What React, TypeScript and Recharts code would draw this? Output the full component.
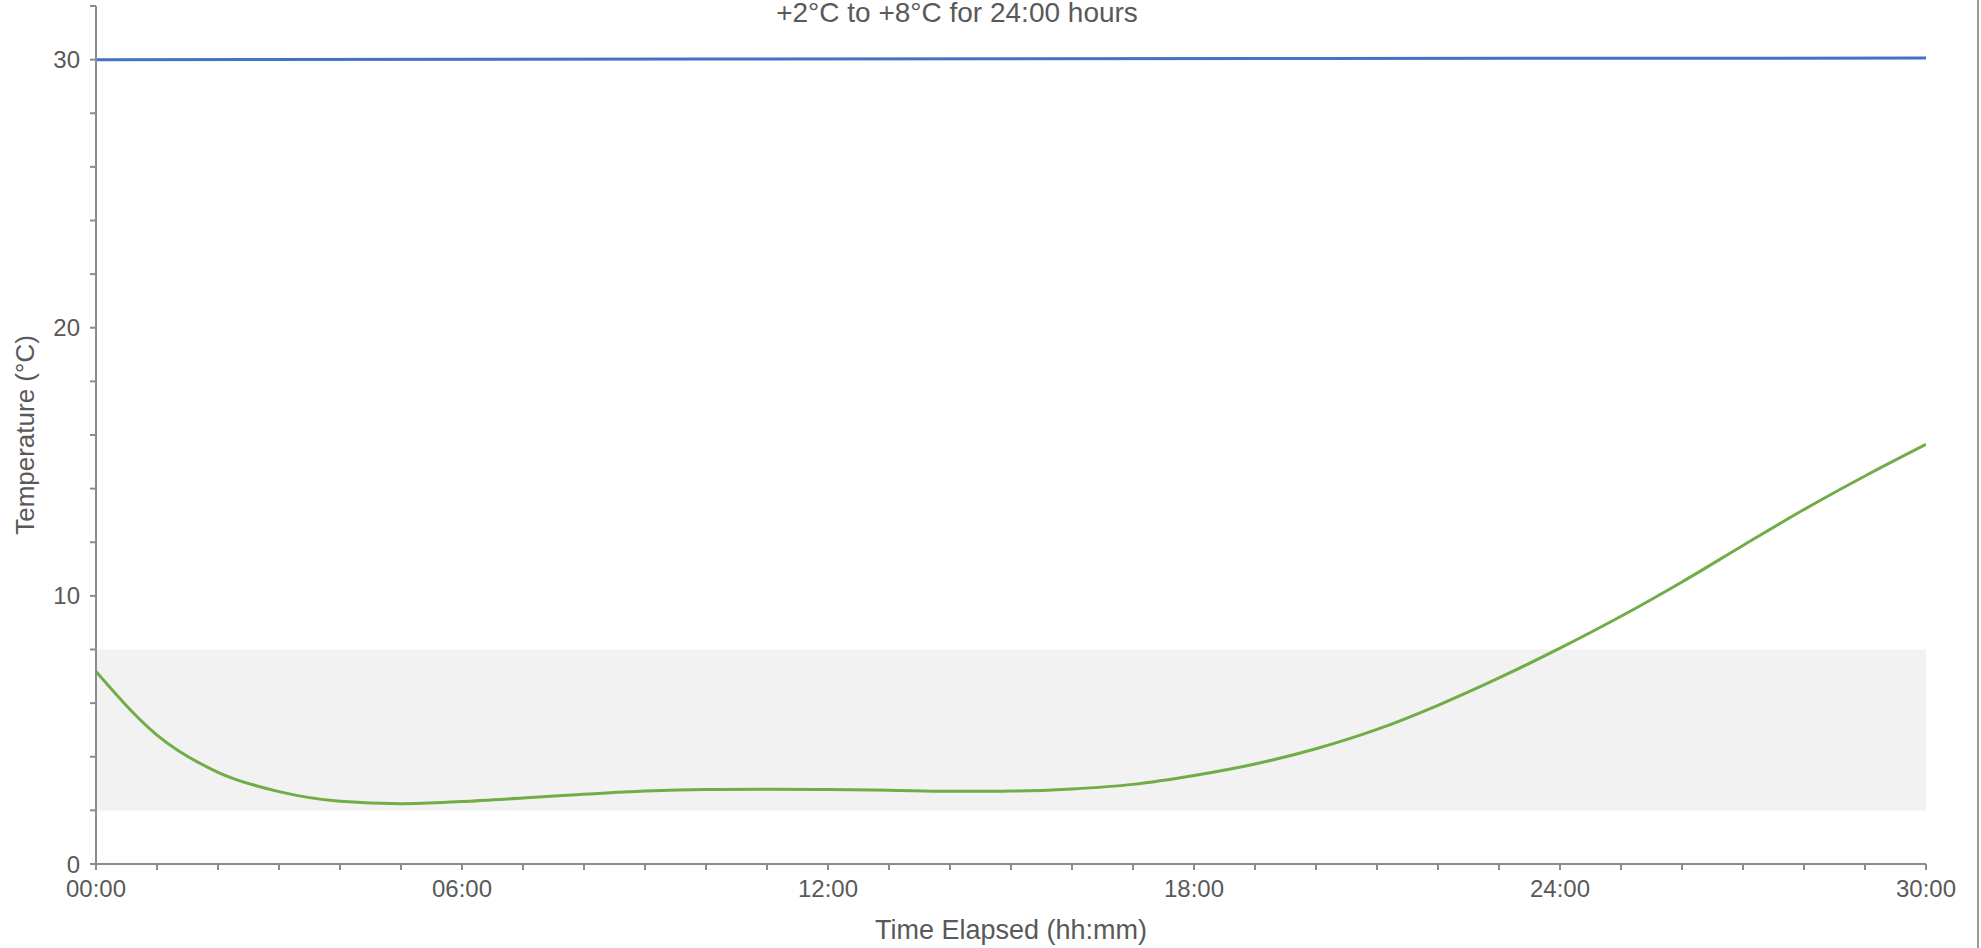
import { LineChart, Line, XAxis, YAxis, ReferenceArea } from "recharts";

// elapsed hours and probe temperature
const hours = [0, 1, 2, 3, 4, 5, 6, 7, 8, 9, 10, 11, 12, 13, 14, 15, 16, 17, 18, 19, 20, 21, 22, 23, 24, 25, 26, 27, 28, 29, 30];
const probeTemp = [
  7.18, 4.81, 3.42, 2.7, 2.34, 2.25, 2.33, 2.46, 2.6, 2.72, 2.78, 2.79, 2.78, 2.75, 2.71, 2.72,
  2.8, 2.97, 3.3, 3.73, 4.3, 5.02, 5.92, 6.94, 8.05, 9.24, 10.52, 11.88, 13.22, 14.47, 15.65,
];

// ambient temperature (blue line)
const ambientHours = [0, 10, 20, 30];
const ambientTemp = [30.0, 30.02, 30.04, 30.06];

// acceptable range band
const rangeLow = 2;
const rangeHigh = 8;

const xTicks = hours;
const xTickLabels: Record<number, string> = { 0: "00:00", 6: "06:00", 12: "12:00", 18: "18:00", 24: "24:00", 30: "30:00" };
const yTicks = [0, 2, 4, 6, 8, 10, 12, 14, 16, 18, 20, 22, 24, 26, 28, 30, 32];
const yTickLabels = [0, 10, 20, 30];

const title = "+2°C to +8°C for 24:00 hours";

const probeData = hours.map((h, i) => ({ h, temp: probeTemp[i] }));
const ambientData = ambientHours.map((h, i) => ({ h, temp: ambientTemp[i] }));

const font = '"Liberation Sans", Arial, sans-serif';
const textColor = "#595959";
const axisColor = "#8c8c8c";

export default function App() {
  return (
    <div style={{ position: "absolute", left: 0, top: 0, width: 1981, height: 948, background: "#fff", overflow: "hidden", fontFamily: font }}>
      <div
        style={{
          position: "absolute",
          left: 0,
          width: 1914,
          top: -1,
          textAlign: "center",
          fontSize: 28,
          lineHeight: "28px",
          color: textColor,
        }}
      >
        {title}
      </div>
      <LineChart width={1981} height={948} margin={{ top: 6, right: 55, bottom: 0, left: 0 }} style={{ fontFamily: font }}>
        <XAxis
          dataKey="h"
          type="number"
          domain={[0, 30]}
          ticks={xTicks}
          interval={0}
          allowDataOverflow
          height={84}
          tickFormatter={(v: number) => xTickLabels[v] ?? ""}
          tick={{ fill: textColor, fontSize: 24 }}
          tickSize={6}
          tickMargin={10}
          stroke={axisColor}
          strokeWidth={2}
          label={{ value: "Time Elapsed (hh:mm)", position: "insideBottom", offset: 9, fill: textColor, fontSize: 27 }}
        />
        <YAxis
          type="number"
          domain={[0, 32]}
          ticks={yTicks}
          interval={0}
          width={96}
          tickFormatter={(v: number) => (yTickLabels.includes(v) ? String(v) : "")}
          tick={{ fill: textColor, fontSize: 24 }}
          tickSize={6}
          tickMargin={10}
          stroke={axisColor}
          strokeWidth={2}
          label={{
            value: "Temperature (°C)",
            angle: -90,
            position: "insideLeft",
            offset: 25,
            fill: textColor,
            fontSize: 26,
            style: { textAnchor: "middle" },
          }}
        />
        <ReferenceArea x1={0} x2={30} y1={rangeLow} y2={rangeHigh} fill="#f2f2f2" fillOpacity={1} stroke="none" />
        <Line
          data={ambientData}
          dataKey="temp"
          type="linear"
          stroke="#4472c4"
          strokeWidth={3}
          dot={false}
          isAnimationActive={false}
        />
        <Line
          data={probeData}
          dataKey="temp"
          type="monotone"
          stroke="#70ad47"
          strokeWidth={3}
          dot={false}
          isAnimationActive={false}
        />
      </LineChart>
      <div style={{ position: "absolute", left: 1977, top: 0, width: 2, height: 948, background: "#9a9a9a" }} />
    </div>
  );
}
